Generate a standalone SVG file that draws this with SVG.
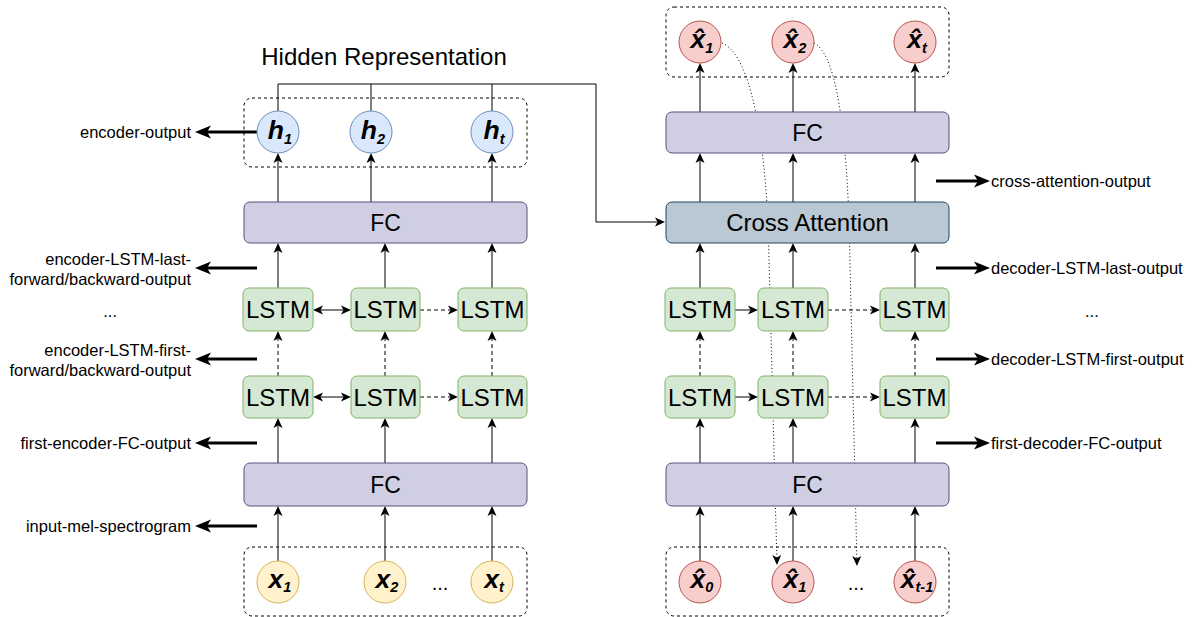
<svg xmlns="http://www.w3.org/2000/svg" width="1193" height="617" viewBox="0 0 1193 617">
<style>
text{font-family:"Liberation Sans",Arial,sans-serif;fill:#000}
.lbl{font-size:16.5px}
.big{font-size:23px;text-anchor:middle}
.lstm{font-size:24px;text-anchor:middle}
.fc{fill:#d0cee2;stroke:#56517e;stroke-width:1}
.ca{fill:#bac8d3;stroke:#23445d;stroke-width:1}
.ls{fill:#d5e8d4;stroke:#82b366;stroke-width:1}
.hc{fill:#dae8fc;stroke:#6c8ebf;stroke-width:1}
.xc{fill:#fff2cc;stroke:#d6b656;stroke-width:1}
.rc{fill:#f8cecc;stroke:#b85450;stroke-width:1}
.grp{fill:none;stroke:#000;stroke-width:1;stroke-dasharray:3 3}
.cv{font-size:26.5px;font-weight:bold;font-style:italic;text-anchor:middle}
.sub{font-size:14.5px}
.ln{fill:none;stroke:#000;stroke-width:1}
.arr{marker-end:url(#a)}
.bi{marker-start:url(#a);marker-end:url(#a)}
.dash{stroke-dasharray:4 3}
.dot{stroke-dasharray:1 2.5}
.thick{fill:none;stroke:#000;stroke-width:3;marker-end:url(#t)}
</style>
<defs>
<marker id="a" markerUnits="userSpaceOnUse" markerWidth="11" markerHeight="10" refX="2.5" refY="4.5" orient="auto-start-reverse" overflow="visible"><path d="M0,0 L10,4.5 L0,9 L2.5,4.5 z" fill="#000"/></marker>
<marker id="t" markerUnits="userSpaceOnUse" markerWidth="17" markerHeight="14" refX="4" refY="6.5" orient="auto" overflow="visible"><path d="M0,0 L16,6.5 L0,13 L4,6.5 z" fill="#000"/></marker>
</defs>

<text x="384" y="65" font-size="24" text-anchor="middle">Hidden Representation</text>

<g id="connectors">
<path class="ln arr" d="M278,561 V513.5"/><path class="ln arr" d="M385,561 V513.5"/><path class="ln arr" d="M492,561 V513.5"/>
<path class="ln arr" d="M278,463 V425.5"/><path class="ln arr" d="M385,463 V425.5"/><path class="ln arr" d="M492,463 V425.5"/>
<path class="ln arr dash" d="M278,376 V338.5"/><path class="ln arr dash" d="M385,376 V338.5"/><path class="ln arr dash" d="M492,376 V338.5"/>
<path class="ln arr" d="M278,288 V250.5"/><path class="ln arr" d="M385,288 V250.5"/><path class="ln arr" d="M492,288 V250.5"/>
<path class="ln arr" d="M278,202 V160.5"/><path class="ln arr" d="M371,202 V160.5"/><path class="ln arr" d="M492,202 V160.5"/>
<path class="ln bi" d="M320.5,310 H343.5"/>
<path class="ln bi" d="M320.5,397 H343.5"/>
<path class="ln arr dash" d="M420,310 H450.5"/>
<path class="ln arr dash" d="M420,397 H450.5"/>
<path class="ln" d="M371,111 V84"/><path class="ln" d="M492,111 V84"/>
<path class="ln arr" d="M278,111 V84 H596 V222 H657.5"/>
<path class="ln arr" d="M700,561 V513.5"/><path class="ln arr" d="M793,561 V513.5"/><path class="ln arr" d="M915,561 V513.5"/>
<path class="ln arr" d="M700,463 V425.5"/><path class="ln arr" d="M793,463 V425.5"/><path class="ln arr" d="M915,463 V425.5"/>
<path class="ln arr dash" d="M700,376 V338.5"/><path class="ln arr dash" d="M793,376 V338.5"/><path class="ln arr dash" d="M915,376 V338.5"/>
<path class="ln arr" d="M700,288 V250.5"/><path class="ln arr" d="M793,288 V250.5"/><path class="ln arr" d="M915,288 V250.5"/>
<path class="ln arr" d="M700,202 V160.5"/><path class="ln arr" d="M793,202 V160.5"/><path class="ln arr" d="M915,202 V160.5"/>
<path class="ln arr" d="M700,112 V70.5"/><path class="ln arr" d="M793,112 V70.5"/><path class="ln arr" d="M915,112 V70.5"/>
<path class="ln arr" d="M735,310 H750.5"/>
<path class="ln arr" d="M735,397 H750.5"/>
<path class="ln arr dash" d="M828,310 H872.5"/>
<path class="ln arr dash" d="M828,397 H872.5"/>
<path class="ln arr dot" d="M722,43 C745,52 762,110 768,220 L776.8,557.5"/>
<path class="ln arr dot" d="M814,43 C833,52 845,110 849,220 L856.8,558.5"/>
<path class="thick" d="M257,132 H207"/>
<path class="thick" d="M257,268 H207"/>
<path class="thick" d="M257,359 H207"/>
<path class="thick" d="M257,443 H207"/>
<path class="thick" d="M257,526 H207"/>
<path class="thick" d="M936,181 H978"/>
<path class="thick" d="M936,268 H978"/>
<path class="thick" d="M936,359 H978"/>
<path class="thick" d="M936,443 H978"/>
</g>

<g id="enc-hidden-group"><rect class="grp" x="244" y="98" width="283" height="69" rx="8"/></g>
<g id="enc-input-group"><rect class="grp" x="244" y="547" width="283" height="69" rx="8"/></g>
<g id="dec-output-group"><rect class="grp" x="666" y="7" width="283" height="70" rx="8"/></g>
<g id="dec-input-group"><rect class="grp" x="666" y="547" width="283" height="69" rx="8"/></g>

<g id="h1"><circle class="hc" cx="278" cy="132" r="21"/><text class="cv" x="280" y="139">h<tspan class="sub" dy="4.5">1</tspan></text></g>
<g id="h2"><circle class="hc" cx="371" cy="132" r="21"/><text class="cv" x="373" y="139">h<tspan class="sub" dy="4.5">2</tspan></text></g>
<g id="ht"><circle class="hc" cx="492" cy="132" r="21"/><text class="cv" x="494" y="139">h<tspan class="sub" dy="4.5">t</tspan></text></g>

<g id="enc-fc-top"><rect class="fc" x="244" y="202" width="283" height="41" rx="6"/><text class="big" x="385.5" y="230.5">FC</text></g>
<g id="enc-lstm-2-1"><rect class="ls" x="243" y="288" width="70" height="43" rx="6"/><text class="lstm" x="278" y="318">LSTM</text></g>
<g id="enc-lstm-2-2"><rect class="ls" x="351" y="288" width="69" height="43" rx="6"/><text class="lstm" x="385.5" y="318">LSTM</text></g>
<g id="enc-lstm-2-3"><rect class="ls" x="458" y="288" width="69" height="43" rx="6"/><text class="lstm" x="492.5" y="318">LSTM</text></g>
<g id="enc-lstm-1-1"><rect class="ls" x="243" y="376" width="70" height="42" rx="6"/><text class="lstm" x="278" y="405.5">LSTM</text></g>
<g id="enc-lstm-1-2"><rect class="ls" x="351" y="376" width="69" height="42" rx="6"/><text class="lstm" x="385.5" y="405.5">LSTM</text></g>
<g id="enc-lstm-1-3"><rect class="ls" x="458" y="376" width="69" height="42" rx="6"/><text class="lstm" x="492.5" y="405.5">LSTM</text></g>
<g id="enc-fc-bottom"><rect class="fc" x="244" y="463" width="283" height="43" rx="6"/><text class="big" x="385.5" y="492.5">FC</text></g>

<g id="x1"><circle class="xc" cx="278" cy="582" r="21"/><text class="cv" x="280" y="588">x<tspan class="sub" dy="4">1</tspan></text></g>
<g id="x2"><circle class="xc" cx="385" cy="582" r="21"/><text class="cv" x="387" y="588">x<tspan class="sub" dy="4">2</tspan></text></g>
<g id="xt"><circle class="xc" cx="492" cy="582" r="21"/><text class="cv" x="494" y="588">x<tspan class="sub" dy="4">t</tspan></text></g>
<text x="440" y="590" font-size="20" text-anchor="middle">...</text>

<g id="dec-y1"><circle class="rc" cx="700" cy="42" r="21"/><text class="cv" x="702" y="48">x&#x302;<tspan class="sub" dy="4.5">1</tspan></text></g>
<g id="dec-y2"><circle class="rc" cx="793" cy="42" r="21"/><text class="cv" x="795" y="48">x&#x302;<tspan class="sub" dy="4.5">2</tspan></text></g>
<g id="dec-yt"><circle class="rc" cx="915" cy="42" r="21"/><text class="cv" x="917" y="48">x&#x302;<tspan class="sub" dy="4.5">t</tspan></text></g>

<g id="dec-fc-top"><rect class="fc" x="666" y="112" width="283" height="41" rx="6"/><text class="big" x="807.5" y="140.5">FC</text></g>
<g id="cross-attention"><rect class="ca" x="666" y="202" width="283" height="41" rx="6"/><text x="807.5" y="231" font-size="24" text-anchor="middle">Cross Attention</text></g>
<g id="dec-lstm-2-1"><rect class="ls" x="665" y="288" width="70" height="43" rx="6"/><text class="lstm" x="700" y="318">LSTM</text></g>
<g id="dec-lstm-2-2"><rect class="ls" x="758" y="288" width="70" height="43" rx="6"/><text class="lstm" x="793" y="318">LSTM</text></g>
<g id="dec-lstm-2-3"><rect class="ls" x="880" y="288" width="69" height="43" rx="6"/><text class="lstm" x="914.5" y="318">LSTM</text></g>
<g id="dec-lstm-1-1"><rect class="ls" x="665" y="376" width="70" height="42" rx="6"/><text class="lstm" x="700" y="405.5">LSTM</text></g>
<g id="dec-lstm-1-2"><rect class="ls" x="758" y="376" width="70" height="42" rx="6"/><text class="lstm" x="793" y="405.5">LSTM</text></g>
<g id="dec-lstm-1-3"><rect class="ls" x="880" y="376" width="69" height="42" rx="6"/><text class="lstm" x="914.5" y="405.5">LSTM</text></g>
<g id="dec-fc-bottom"><rect class="fc" x="666" y="463" width="283" height="43" rx="6"/><text class="big" x="807.5" y="492.5">FC</text></g>

<g id="dec-x0"><circle class="rc" cx="700" cy="582" r="21"/><text class="cv" x="702" y="588">x&#x302;<tspan class="sub" dy="4">0</tspan></text></g>
<g id="dec-x1"><circle class="rc" cx="793" cy="582" r="21"/><text class="cv" x="795" y="588">x&#x302;<tspan class="sub" dy="4">1</tspan></text></g>
<g id="dec-xt1"><circle class="rc" cx="915" cy="582" r="21"/><text class="cv" x="917" y="588">x&#x302;<tspan class="sub" dy="4">t-1</tspan></text></g>
<text x="856" y="590" font-size="20" text-anchor="middle">...</text>

<g id="left-labels" text-anchor="end">
<text class="lbl" x="191" y="138">encoder-output</text>
<text class="lbl" x="191" y="265">encoder-LSTM-last-</text>
<text class="lbl" x="191" y="285">forward/backward-output</text>
<text class="lbl" x="117" y="317">...</text>
<text class="lbl" x="191" y="356">encoder-LSTM-first-</text>
<text class="lbl" x="191" y="376">forward/backward-output</text>
<text class="lbl" x="191" y="449">first-encoder-FC-output</text>
<text class="lbl" x="191" y="532">input-mel-spectrogram</text>
</g>
<g id="right-labels">
<text class="lbl" x="991" y="187">cross-attention-output</text>
<text class="lbl" x="991" y="274">decoder-LSTM-last-output</text>
<text class="lbl" x="1085" y="317">...</text>
<text class="lbl" x="991" y="365">decoder-LSTM-first-output</text>
<text class="lbl" x="991" y="449">first-decoder-FC-output</text>
</g>
</svg>
